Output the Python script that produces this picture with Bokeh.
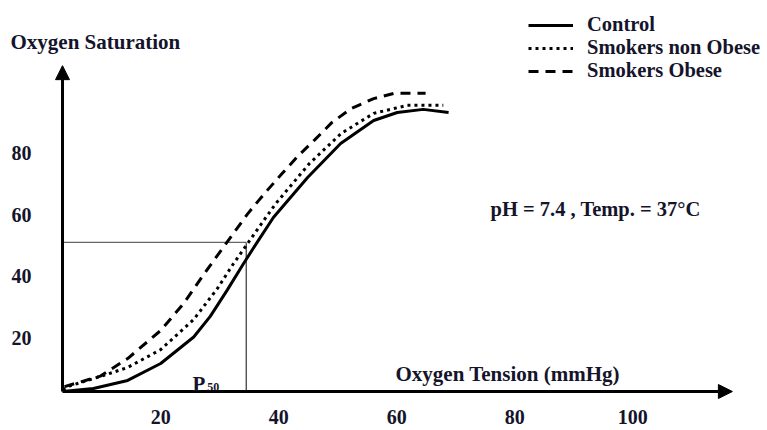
from bokeh.plotting import figure
from bokeh.models import Arrow, NormalHead, Label, Legend, LegendItem
from bokeh.core.properties import value
from bokeh.embed import file_html
from bokeh.resources import INLINE

# ---- data ----
tension_control = [3.4, 8.6, 14.4, 20.0, 25.6, 28.4, 31.3, 34.0, 36.4, 39.1, 44.9, 50.5, 56.1, 60.1, 64.5, 68.8]
sat_control = [2.6, 3.6, 6.2, 11.7, 20.3, 27.0, 35.6, 44.0, 51.2, 59.1, 72.1, 83.1, 90.6, 93.2, 94.2, 93.2]

tension_nonobese = [3.4, 4.7, 10.3, 14.4, 20.0, 25.6, 29.6, 32.3, 34.7, 39.5, 45.2, 50.6, 56.1, 61.8, 67.9]
sat_nonobese = [3.2, 4.5, 7.8, 10.4, 16.2, 26.0, 36.0, 44.0, 50.6, 63.6, 76.6, 86.4, 92.9, 95.5, 95.5]

tension_obese = [3.7, 9.8, 14.4, 20.0, 23.9, 27.3, 30.6, 34.7, 37.6, 40.5, 43.4, 46.1, 49.0, 52.3, 56.1, 59.5, 64.9]
sat_obese = [4.2, 7.6, 13.3, 22.4, 31.2, 40.6, 49.4, 60.2, 66.9, 73.2, 79.3, 84.3, 89.9, 94.5, 97.7, 99.4, 99.4]

series_names = ["Control", "Smokers non Obese", "Smokers Obese"]

x_ticks = [20, 40, 60, 80, 100]
y_ticks = [20, 40, 60, 80]

p50_tension = 34.5
p50_sat = 51.0

# ---- layout / styling ----
X0, X1 = -7.15, 122.85     # data range across the whole canvas
Y0, Y1 = -10.06, 129.55
AX_X, AX_Y = 3.36, 2.6     # where the two axes meet
AX_X_END, AX_Y_END = 116.9, 108.4
FONT = "Liberation Serif"
TXT = "#14142b"

p = figure(width=767, height=430, x_range=(X0, X1), y_range=(Y0, Y1),
           output_backend="svg", toolbar_location=None,
           x_axis_location=None, y_axis_location=None,
           min_border=0, min_border_left=0, min_border_right=0,
           min_border_top=0, min_border_bottom=0)
p.grid.visible = False
p.outline_line_color = None
p.background_fill_color = "white"

# tick labels placed through the data scales
p.text(x=x_ticks, y=[-5.8] * len(x_ticks), text=[str(t) for t in x_ticks],
       text_font=value(FONT), text_font_style="bold", text_font_size="20px",
       text_color=TXT, text_align="center", text_baseline="middle")
p.text(x=[-1.9] * len(y_ticks), y=y_ticks, text=[str(t) for t in y_ticks],
       text_font=value(FONT), text_font_style="bold", text_font_size="20px",
       text_color=TXT, text_align="right", text_baseline="middle")

# axis arrows
p.add_layout(Arrow(end=NormalHead(size=14, fill_color="black", line_color="black"),
                   x_start=AX_X, y_start=AX_Y, x_end=AX_X, y_end=AX_Y_END,
                   line_width=3, line_color="black"))
p.add_layout(Arrow(end=NormalHead(size=14, fill_color="black", line_color="black"),
                   x_start=AX_X, y_start=AX_Y, x_end=AX_X_END, y_end=AX_Y,
                   line_width=3, line_color="black"))

# P50 guide lines
p.line([AX_X, p50_tension], [p50_sat, p50_sat], line_color="#666666", line_width=1.2)
p.line([p50_tension, p50_tension], [AX_Y, p50_sat], line_color="#333333", line_width=1.2)

r_ctrl = p.line(tension_control, sat_control, line_color="black", line_width=3)
r_non = p.line(tension_nonobese, sat_nonobese, line_color="black", line_width=3, line_dash="3 4")
r_ob = p.line(tension_obese, sat_obese, line_color="black", line_width=3, line_dash="10 7")

legend = Legend(items=[LegendItem(label=series_names[0], renderers=[r_ctrl]),
                       LegendItem(label=series_names[1], renderers=[r_non]),
                       LegendItem(label=series_names[2], renderers=[r_ob])],
                location=(528, 348), glyph_width=45, glyph_height=20, label_height=20,
                spacing=0, padding=0, margin=0, border_line_color=None,
                background_fill_alpha=0, label_standoff=14,
                label_text_font=FONT, label_text_font_style="bold",
                label_text_font_size="20.5px", label_text_color=TXT)
p.add_layout(legend)


def lab(x, y, t, size="21px", baseline="alphabetic"):
    p.add_layout(Label(x=x, y=y, text=t, text_font=FONT, text_font_style="bold",
                       text_font_size=size, text_color=TXT, text_baseline=baseline))


lab(-5.46, 116.0, "Oxygen Saturation")
lab(59.8, 8.3, "Oxygen Tension (mmHg)")
lab(25.4, 5.0, "P", size="21px")
lab(27.9, 4.2, "50", size="12px")
lab(75.9, 62.0, "pH = 7.4  , Temp. = 37°C", size="20.5px", baseline="middle")

open("out.html", "w").write(file_html(p, INLINE))
